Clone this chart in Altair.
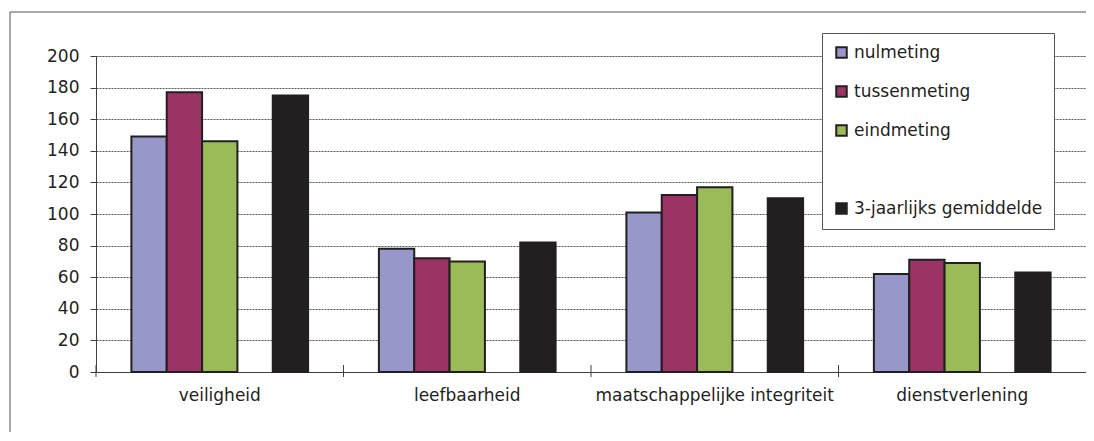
import altair as alt
import pandas as pd

categories = ["veiligheid", "leefbaarheid", "maatschappelijke integriteit", "dienstverlening"]
series = ["nulmeting", "tussenmeting", "eindmeting", " ", "3-jaarlijks gemiddelde"]
nulmeting = [149, 78, 101, 62]
tussenmeting = [177, 72, 112, 71]
eindmeting = [146, 70, 117, 69]
gemiddelde = [175, 82, 110, 63]
y_ticks = [0, 20, 40, 60, 80, 100, 120, 140, 160, 180, 200]

fills = ["#9797ca", "#9b3464", "#9bbb59", "transparent", "#231f20"]
strokes = ["#231f20", "#231f20", "#231f20", "transparent", "#231f20"]

rows = []
for name, vals in [("nulmeting", nulmeting), ("tussenmeting", tussenmeting),
                   ("eindmeting", eindmeting), ("3-jaarlijks gemiddelde", gemiddelde)]:
    for c, v in zip(categories, vals):
        rows.append({"categorie": c, "reeks": name, "waarde": v})
df = pd.DataFrame(rows)

FONT = "DejaVu Sans"
PLOT_W = 990
PAD_INNER = 0.286

leg = alt.Legend(
    title=None, orient="none", legendX=726, legendY=-23,
    fillColor="white", strokeColor="#555555", padding=11,
    rowPadding=20, symbolType="square", symbolSize=110, symbolStrokeWidth=2,
    labelFontSize=17, labelFont=FONT, labelColor="#231f20", labelOffset=4,
    labelLimit=400,
)

x_enc = alt.X("categorie:N", sort=categories,
              scale=alt.Scale(paddingInner=PAD_INNER, paddingOuter=PAD_INNER / 2),
              axis=alt.Axis(title=None, labelAngle=0, ticks=False, grid=False,
                            labelFont=FONT, labelFontSize=17, labelColor="#231f20",
                            labelPadding=15, labelLimit=400, domainColor="#404040"))

bars = alt.Chart(df).mark_bar(strokeWidth=2).encode(
    x=x_enc,
    xOffset=alt.XOffset("reeks:N", scale=alt.Scale(domain=series, paddingInner=0, paddingOuter=0)),
    y=alt.Y("waarde:Q", scale=alt.Scale(domain=[0, 200], nice=False),
            axis=alt.Axis(title=None, values=y_ticks, grid=True, gridDash=[2, 1],
                          gridColor="#555555", gridWidth=1, tickSize=6, tickColor="#404040",
                          domainColor="#404040", labelFont=FONT, labelFontSize=17,
                          labelColor="#231f20", labelPadding=11)),
    fill=alt.Fill("reeks:N", scale=alt.Scale(domain=series, range=fills), legend=leg),
    stroke=alt.Stroke("reeks:N", scale=alt.Scale(domain=series, range=strokes), legend=leg),
)

cat_df = pd.DataFrame({"categorie": categories})
half_gap = PAD_INNER * (PLOT_W / len(categories)) / 2
cat_ticks = alt.Chart(cat_df).mark_rule(color="#404040", strokeWidth=1, xOffset=-half_gap).encode(
    x=alt.X("categorie:N", sort=categories, bandPosition=0),
    y=alt.value(309), y2=alt.value(321),
)

one = pd.DataFrame({"a": [0]})
frame_left = alt.Chart(one).mark_rule(color="#555555", strokeWidth=1).encode(
    x=alt.value(-86), y=alt.value(-44), y2=alt.value(440))
frame_top = alt.Chart(one).mark_rule(color="#555555", strokeWidth=1).encode(
    x=alt.value(-86), x2=alt.value(1040), y=alt.value(-44))

chart = alt.layer(frame_left, frame_top, bars, cat_ticks).properties(
    width=PLOT_W, height=316,
    autosize=alt.AutoSizeParams(type="none"),
    padding={"left": 88, "top": 48, "right": 0, "bottom": 60},
).configure_view(stroke=None).configure(background="white")

chart.save("out.html", embed_options={"renderer": "svg", "actions": False})
